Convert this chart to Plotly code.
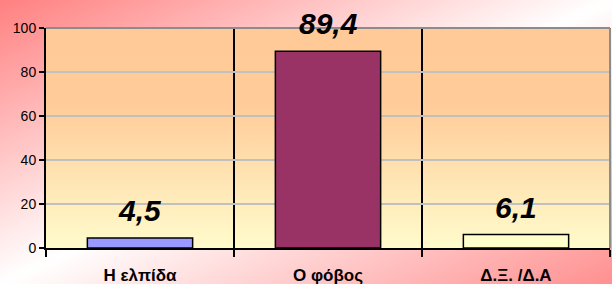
import base64
import plotly.graph_objects as go

categories = ["Η ελπίδα", "Ο φόβος", "Δ.Ξ. /Δ.Α"]
values = [4.5, 89.4, 6.1]
value_labels = ["4,5", "89,4", "6,1"]
bar_colors = ["#9999FF", "#993366", "#FFFFCC"]
y_ticks = [0, 20, 40, 60, 80, 100]

W, H = 612, 284
ML, MR, MT, MB = 46, 2, 28, 36
PW, PH = W - ML - MR, H - MT - MB


def svg_uri(svg):
    return "data:image/svg+xml;base64," + base64.b64encode(svg.encode()).decode()


paper_svg = (
    '<svg xmlns="http://www.w3.org/2000/svg" width="612" height="284" viewBox="0 0 612 284" preserveAspectRatio="none">'
    '<defs><linearGradient id="g" x1="0" y1="0" x2="1" y2="1">'
    '<stop offset="0" stop-color="#FF8080"/><stop offset="0.5" stop-color="#FFFFFF"/>'
    '<stop offset="1" stop-color="#FF9090"/></linearGradient></defs>'
    '<rect x="0" y="0" width="612" height="284" fill="url(#g)"/></svg>'
)
plot_svg = (
    '<svg xmlns="http://www.w3.org/2000/svg" width="564" height="220" viewBox="0 0 564 220" preserveAspectRatio="none">'
    '<defs><linearGradient id="p" x1="0" y1="0" x2="0" y2="1">'
    '<stop offset="0" stop-color="#FFCA98"/><stop offset="0.35" stop-color="#FFCC99"/>'
    '<stop offset="1" stop-color="#FFFBCC"/></linearGradient></defs>'
    '<rect x="0" y="0" width="564" height="220" fill="url(#p)"/></svg>'
)

fig = go.Figure()
fig.add_trace(go.Bar(
    x=categories, y=values, width=0.56,
    marker=dict(color=bar_colors, line=dict(color="black", width=1.5)),
    hoverinfo="skip",
))

for c, v, t in zip(categories, values, value_labels):
    fig.add_annotation(
        x=c, y=v, text=t, showarrow=False, yanchor="bottom", yshift=9,
        font=dict(family="Arial, Liberation Sans", size=30, color="black", weight="bold", style="italic"),
    )

fig.add_layout_image(dict(
    source=svg_uri(paper_svg), xref="paper", yref="paper",
    x=-ML / PW, y=1 + MT / PH, sizex=W / PW, sizey=H / PH,
    xanchor="left", yanchor="top", sizing="stretch", layer="below",
))
fig.add_layout_image(dict(
    source=svg_uri(plot_svg), xref="paper", yref="paper",
    x=0, y=1, sizex=1, sizey=1,
    xanchor="left", yanchor="top", sizing="stretch", layer="below",
))

# grey top/right border
fig.add_shape(type="line", xref="paper", yref="paper", x0=0, x1=1, y0=1, y1=1,
              line=dict(color="#8C8C8C", width=2), layer="above")
fig.add_shape(type="line", xref="paper", yref="paper", x0=1, x1=1, y0=0, y1=1,
              line=dict(color="#8C8C8C", width=2), layer="above")

fig.update_layout(
    width=W, height=H,
    margin=dict(l=ML, r=MR, t=MT, b=MB, pad=0, autoexpand=False),
    paper_bgcolor="rgba(0,0,0,0)", plot_bgcolor="rgba(0,0,0,0)",
    showlegend=False,
    bargap=0.44,
    font=dict(family="Arial, Liberation Sans", color="black"),
    xaxis=dict(
        type="category", tickson="boundaries", ticks="outside", ticklen=7,
        tickcolor="black", tickwidth=1.5,
        showgrid=True, gridcolor="black", gridwidth=1.5,
        showline=True, linecolor="black", linewidth=2,
        tickfont=dict(size=17, weight="bold"), ticklabelstandoff=11,
        range=[-0.5, 2.5], fixedrange=True, automargin=False,
    ),
    yaxis=dict(
        range=[0, 100], tickvals=y_ticks, ticks="outside", ticklen=5,
        tickcolor="black", tickwidth=1.5,
        showgrid=True, gridcolor="#C0C0C0", gridwidth=2,
        showline=True, linecolor="black", linewidth=2,
        tickfont=dict(size=14), zeroline=False, fixedrange=True, automargin=False,
    ),
)

fig.write_html(
    "out.html",
    config={"displayModeBar": False},
    post_script="document.body.style.margin='0';document.body.style.overflow='hidden';",
)
